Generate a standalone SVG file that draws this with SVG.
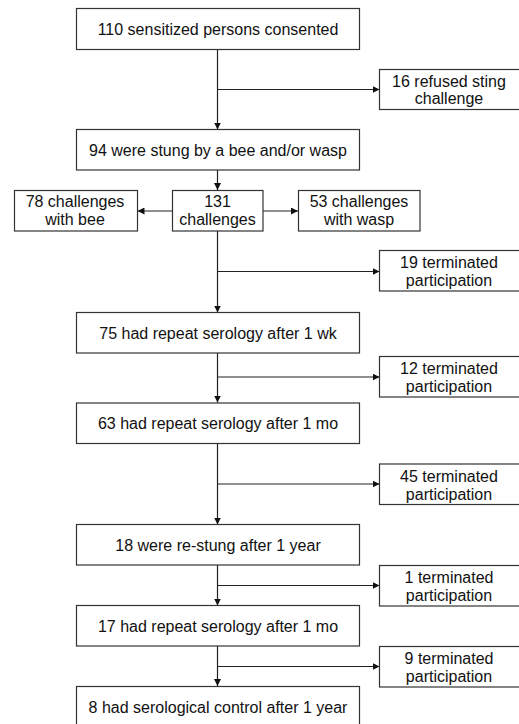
<svg xmlns="http://www.w3.org/2000/svg" width="519" height="724" viewBox="0 0 519 724">
<defs>
<style>
.box{fill:#fff;stroke:#333;stroke-width:1.2}
.t{font-family:"Liberation Sans",Arial,sans-serif;font-size:16px;fill:#111;text-anchor:middle}
.c{fill:none;stroke:#222;stroke-width:1.2}
</style>
<marker id="ah" viewBox="0 0 10 10" refX="10" refY="5" markerWidth="7" markerHeight="7" markerUnits="userSpaceOnUse" orient="auto">
<path d="M0,0 L10,5 L0,10 z" fill="#111"/>
</marker>
</defs>
<rect width="519" height="724" fill="#fff"/>
<g id="connectors">
<path class="c" d="M217.5,49.5 V129.5" marker-end="url(#ah)"/>
<path class="c" d="M217.5,89.5 H379.5" marker-end="url(#ah)"/>
<path class="c" d="M217.5,170 V190" marker-end="url(#ah)"/>
<path class="c" d="M172.5,211 H137.5" marker-end="url(#ah)"/>
<path class="c" d="M263,211 H298" marker-end="url(#ah)"/>
<path class="c" d="M217.5,231 V312.5" marker-end="url(#ah)"/>
<path class="c" d="M217.5,271.5 H379.5" marker-end="url(#ah)"/>
<path class="c" d="M217.5,353 V402.5" marker-end="url(#ah)"/>
<path class="c" d="M217.5,377 H379.5" marker-end="url(#ah)"/>
<path class="c" d="M217.5,443.5 V524.5" marker-end="url(#ah)"/>
<path class="c" d="M217.5,484 H379.5" marker-end="url(#ah)"/>
<path class="c" d="M217.5,565 V605.5" marker-end="url(#ah)"/>
<path class="c" d="M217.5,585.5 H379.5" marker-end="url(#ah)"/>
<path class="c" d="M217.5,646 V686" marker-end="url(#ah)"/>
<path class="c" d="M217.5,666.5 H379.5" marker-end="url(#ah)"/>
</g>
<g id="n1"><rect class="box" x="76.5" y="8.5" width="283" height="41"/><text class="t" x="218" y="34.5">110 sensitized persons consented</text></g>
<g id="r1"><rect class="box" x="379.5" y="69.5" width="141" height="40"/><text class="t" x="449" y="86.5">16 refused sting</text><text class="t" x="449" y="104">challenge</text></g>
<g id="n2"><rect class="box" x="76.5" y="129.5" width="283" height="40.5"/><text class="t" x="218" y="155.5">94 were stung by a bee and/or wasp</text></g>
<g id="n3"><rect class="box" x="172.5" y="190.5" width="90.5" height="40.5"/><text class="t" x="217.5" y="207">131</text><text class="t" x="217.5" y="225">challenges</text></g>
<g id="bee"><rect class="box" x="14.5" y="190.5" width="123" height="40.5"/><text class="t" x="75" y="207">78 challenges</text><text class="t" x="75" y="225">with bee</text></g>
<g id="wasp"><rect class="box" x="298.5" y="190.5" width="121.5" height="40.5"/><text class="t" x="359" y="207">53 challenges</text><text class="t" x="359" y="225">with wasp</text></g>
<g id="r2"><rect class="box" x="379.5" y="250.5" width="141" height="40.5"/><text class="t" x="449" y="268">19 terminated</text><text class="t" x="449" y="286">participation</text></g>
<g id="n4"><rect class="box" x="76.5" y="312.5" width="283" height="40.5"/><text class="t" x="218" y="338.5">75 had repeat serology after 1 wk</text></g>
<g id="r3"><rect class="box" x="379.5" y="356.5" width="141" height="40.5"/><text class="t" x="449" y="374">12 terminated</text><text class="t" x="449" y="392">participation</text></g>
<g id="n5"><rect class="box" x="76.5" y="403" width="283" height="40.5"/><text class="t" x="218" y="429">63 had repeat serology after 1 mo</text></g>
<g id="r4"><rect class="box" x="379.5" y="464" width="141" height="40.5"/><text class="t" x="449" y="481.5">45 terminated</text><text class="t" x="449" y="499.5">participation</text></g>
<g id="n6"><rect class="box" x="76.5" y="524.5" width="283" height="40.5"/><text class="t" x="218" y="550.5">18 were re-stung after 1 year</text></g>
<g id="r5"><rect class="box" x="379.5" y="565.5" width="141" height="40.5"/><text class="t" x="449" y="583">1 terminated</text><text class="t" x="449" y="601">participation</text></g>
<g id="n7"><rect class="box" x="76.5" y="605.5" width="283" height="40.5"/><text class="t" x="218" y="631.5">17 had repeat serology after 1 mo</text></g>
<g id="r6"><rect class="box" x="379.5" y="646.5" width="141" height="40.5"/><text class="t" x="449" y="664">9 terminated</text><text class="t" x="449" y="682">participation</text></g>
<g id="n8"><rect class="box" x="76.5" y="686.5" width="283" height="41"/><text class="t" x="218" y="712.5">8 had serological control after 1 year</text></g>
</svg>
